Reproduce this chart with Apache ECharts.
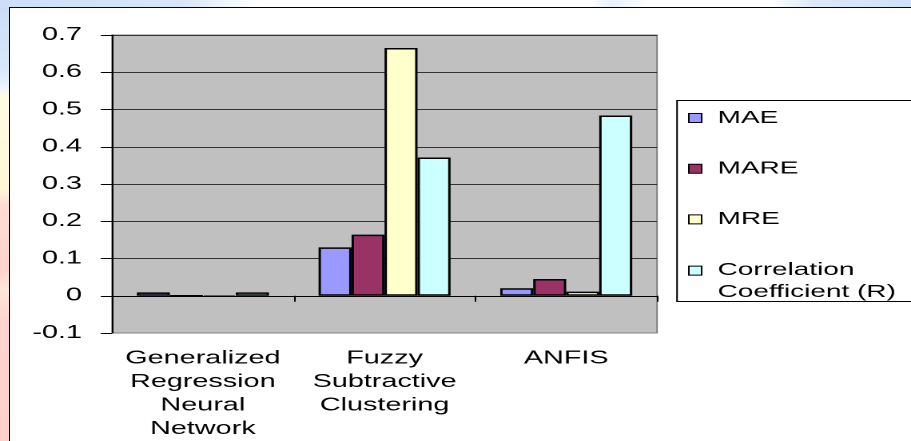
<!DOCTYPE html>
<html>
<head>
<meta charset="utf-8">
<script src="https://cdn.jsdelivr.net/npm/echarts@6/dist/echarts.min.js"></script>
<style>
  html, body { margin: 0; padding: 0; background: #fff; }
  #stage {
    position: relative; width: 911px; height: 441px; overflow: hidden;
    background:
      linear-gradient(to right, #cddff8 0px, #d6e5f9 180px, #eef5fd 225px, #ffffff 260px, #ffffff 590px, #e6f1fd 612px, #ffffff 650px, #ffffff 770px, #dbe8f9 815px, #cfe0f8 911px) 0 0 / 911px 8px no-repeat,
      linear-gradient(to bottom, #c9dcf7 0px, #d9e7fa 70px, #eef4fc 88px, #fffbe2 96px, #fff7d6 190px, #ffdcd4 205px, #ffd3cf 270px, #ffe6d8 290px, #ffd4d0 320px, #ffd0cc 441px) 0 0 / 10px 441px no-repeat,
      #ffffff;
  }
  #frame {
    position: absolute; left: 9px; top: 7px; width: 1000px; height: 1000px;
    background: #fff; border: 1px solid #000; box-sizing: border-box;
  }
  #chart {
    position: absolute; left: 0; top: 0; width: 570px; height: 441px;
    transform-origin: 0 0; transform: scaleX(1.59825);
  }
</style>
</head>
<body>
<div id="stage">
  <div id="frame"></div>
  <div id="chart"></div>
</div>
<script>
// Model comparison: error measures and correlation per method
const categories = [
  'Generalized\nRegression\nNeural\nNetwork',
  'Fuzzy\nSubtractive\nClustering',
  'ANFIS'
];
const seriesNames = ['MAE', 'MARE', 'MRE', 'Correlation Coefficient (R)'];
const maeValues  = [0.009, 0.130, 0.020];
const mareValues = [0.000, 0.164, 0.045];
const mreValues  = [-0.003, 0.665, 0.011];
const corrValues = [0.009, 0.371, 0.484];
const yTickLabels = ['-0.1', '0', '0.1', '0.2', '0.3', '0.4', '0.5', '0.6', '0.7'];

const palette = ['#9999FF', '#993366', '#FFFFCC', '#CCFFFF'];
const valueSets = [maeValues, mareValues, mreValues, corrValues];
const FONT = '"Liberation Sans", Arial, sans-serif';

const chart = echarts.init(document.getElementById('chart'), null, { devicePixelRatio: 2 });

const series = seriesNames.map((name, i) => ({
  name: name,
  type: 'bar',
  data: valueSets[i],
  barWidth: 20.65,
  barGap: '0%',
  itemStyle: { color: palette[i], borderColor: '#000', borderWidth: 1.5 },
  emphasis: { disabled: true }
}));

chart.setOption({
  animation: false,
  color: palette,
  grid: {
    left: 70.1, top: 35, width: 341, height: 333,
    show: true, backgroundColor: '#C0C0C0', borderColor: '#808080', borderWidth: 1
  },
  xAxis: {
    type: 'category',
    data: categories,
    axisLine: { onZero: true, lineStyle: { color: '#000', width: 1 } },
    axisTick: { show: true, length: 6, lineStyle: { color: '#000' } },
    axisLabel: {
      interval: 0, margin: 14, color: '#000',
      fontFamily: FONT, fontSize: 18, lineHeight: 23.5
    },
    splitLine: { show: false }
  },
  yAxis: {
    type: 'value',
    min: -0.1, max: 0.7, interval: 0.1,
    axisLine: { show: true, lineStyle: { color: '#000', width: 1 } },
    axisTick: { show: true, length: 7, lineStyle: { color: '#000' } },
    axisLabel: {
      margin: 18.8, color: '#000', fontFamily: FONT, fontSize: 18,
      formatter: v => yTickLabels[Math.round((v + 0.1) / 0.1)]
    },
    splitLine: { show: true, showMinLine: false, lineStyle: { color: '#333', width: 1 } }
  },
  legend: {
    orient: 'vertical',
    left: 430.5, top: 109,
    padding: 0, itemGap: 32.7,
    itemWidth: 8, itemHeight: 9,
    icon: 'rect',
    selectedMode: false,
    itemStyle: { borderColor: '#000', borderWidth: 1 },
    data: seriesNames,
    formatter: name => name === 'Correlation Coefficient (R)'
      ? '{a|Correlation}\n{b|Coefficient (R)}'
      : '{c|' + name + '}',
    textStyle: {
      color: '#000', fontFamily: FONT, fontSize: 17.5,
      rich: {
        a: { fontFamily: FONT, fontSize: 17.5, color: '#000', lineHeight: 43, padding: [0, 0, 0, 5] },
        b: { fontFamily: FONT, fontSize: 17.5, color: '#000', lineHeight: 1, padding: [0, 0, 0, 5] },
        c: { fontFamily: FONT, fontSize: 17.5, color: '#000', lineHeight: 44, padding: [0, 0, 0, 5] }
      }
    }
  },
  graphic: [{
    type: 'rect',
    shape: { x: 423.6, y: 100.5, width: 200, height: 201 },
    style: { fill: 'none', stroke: '#000', lineWidth: 1 },
    silent: true
  }],
  series: series
});
</script>
</body>
</html>
